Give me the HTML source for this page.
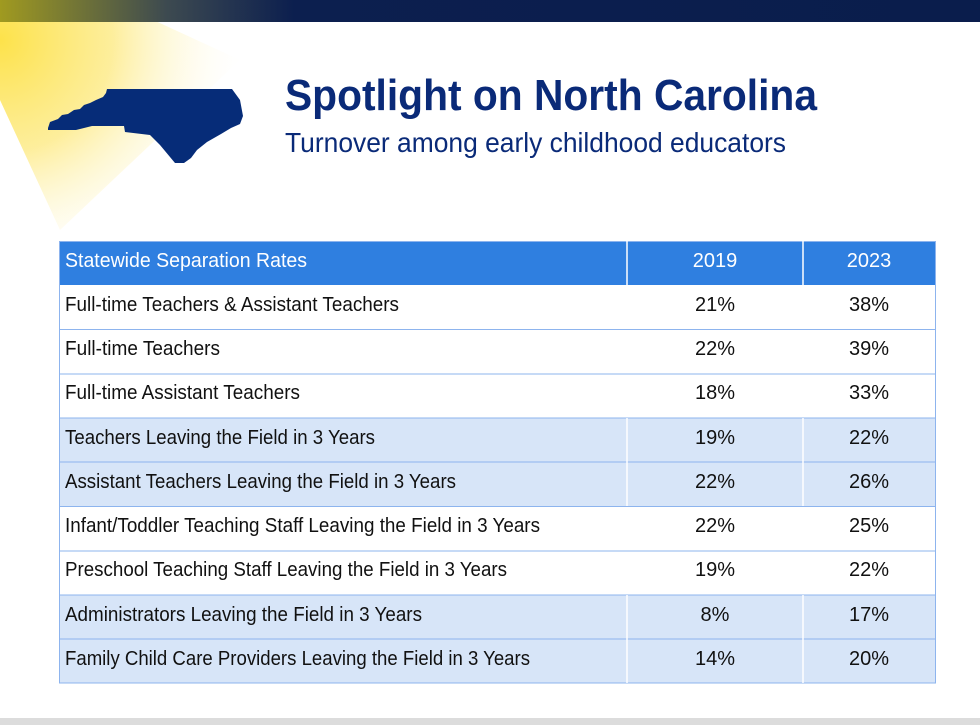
<!DOCTYPE html>
<html><head><style>body{margin:0;background:#fff}svg{display:block}</style></head><body>
<svg width="980" height="725" viewBox="0 0 980 725" xmlns="http://www.w3.org/2000/svg" font-family="Liberation Sans, sans-serif">
<defs>
<radialGradient id="spot" cx="0" cy="40" r="250" gradientUnits="userSpaceOnUse">
<stop offset="0" stop-color="#fde24a"/><stop offset="0.45" stop-color="#fdeb8a" stop-opacity="0.85"/><stop offset="1" stop-color="#fff" stop-opacity="0"/></radialGradient>
<linearGradient id="bar" x1="0" x2="1"><stop offset="0" stop-color="#a09a20"/><stop offset="0.17" stop-color="#3d4a50"/><stop offset="0.3" stop-color="#0c1f4f"/><stop offset="1" stop-color="#0a1d4c"/></linearGradient>
</defs>
<polygon points="0,0 110,0 240,60 60,230 0,100" fill="url(#spot)"/>
<rect x="0" y="0" width="980" height="22" fill="url(#bar)"/>
<polygon fill="#062c78" points="48,128 50,122 58,119 62,115 68,114 74,110 80,109 84,105 90,103 96,100 103,97 106,93 107,89 232,89 240,100 243,116 240,124 231,128 221,134 207,142 197,150 191,158 184,163 175,163 160,145 150,135 125,132 124,126 92,126 76,130 48,130"/>
<text x="285" y="110" font-size="44" font-weight="bold" fill="#0a2a78" textLength="532" lengthAdjust="spacingAndGlyphs">Spotlight on North Carolina</text>
<text x="285" y="152" font-size="28" fill="#0a2a78" textLength="501" lengthAdjust="spacingAndGlyphs">Turnover among early childhood educators</text>
<rect x="59" y="241" width="877" height="44" fill="#2f7fe0"/>
<rect x="59" y="418" width="877" height="88" fill="#d7e5f8"/>
<rect x="59" y="595" width="877" height="88" fill="#d7e5f8"/>
<g stroke="#8db4ee" stroke-width="1" fill="none">
<rect x="59.5" y="241.5" width="876" height="441.5"/>
<line x1="59" x2="936" y1="329.5" y2="329.5"/><line x1="59" x2="936" y1="374" y2="374"/>
<line x1="59" x2="936" y1="418" y2="418"/><line x1="59" x2="936" y1="462" y2="462"/>
<line x1="59" x2="936" y1="506.5" y2="506.5"/><line x1="59" x2="936" y1="551" y2="551"/>
<line x1="59" x2="936" y1="595" y2="595"/><line x1="59" x2="936" y1="639" y2="639"/>
</g>
<g stroke="#fff" stroke-width="1.5">
<line x1="627" x2="627" y1="241" y2="285"/><line x1="803" x2="803" y1="241" y2="285"/>
<line x1="627" x2="627" y1="418" y2="506"/><line x1="803" x2="803" y1="418" y2="506"/>
<line x1="627" x2="627" y1="595" y2="683"/><line x1="803" x2="803" y1="595" y2="683"/>
</g>
<text x="65" y="267" font-size="20" fill="#fff" textLength="242" lengthAdjust="spacingAndGlyphs">Statewide Separation Rates</text>
<text x="715" y="267" font-size="20" fill="#fff" text-anchor="middle">2019</text>
<text x="869" y="267" font-size="20" fill="#fff" text-anchor="middle">2023</text>
<g font-size="20" fill="#111">
<text x="65" y="311" textLength="334" lengthAdjust="spacingAndGlyphs">Full-time Teachers &amp; Assistant Teachers</text>
<text x="65" y="355" textLength="155" lengthAdjust="spacingAndGlyphs">Full-time Teachers</text>
<text x="65" y="399" textLength="235" lengthAdjust="spacingAndGlyphs">Full-time Assistant Teachers</text>
<text x="65" y="444" textLength="310" lengthAdjust="spacingAndGlyphs">Teachers Leaving the Field in 3 Years</text>
<text x="65" y="488" textLength="391" lengthAdjust="spacingAndGlyphs">Assistant Teachers Leaving the Field in 3 Years</text>
<text x="65" y="532" textLength="475" lengthAdjust="spacingAndGlyphs">Infant/Toddler Teaching Staff Leaving the Field in 3 Years</text>
<text x="65" y="576" textLength="442" lengthAdjust="spacingAndGlyphs">Preschool Teaching Staff Leaving the Field in 3 Years</text>
<text x="65" y="621" textLength="357" lengthAdjust="spacingAndGlyphs">Administrators Leaving the Field in 3 Years</text>
<text x="65" y="665" textLength="465" lengthAdjust="spacingAndGlyphs">Family Child Care Providers Leaving the Field in 3 Years</text>
</g>
<g font-size="20" fill="#111" text-anchor="middle">
<text x="715" y="311">21%</text><text x="869" y="311">38%</text>
<text x="715" y="355">22%</text><text x="869" y="355">39%</text>
<text x="715" y="399">18%</text><text x="869" y="399">33%</text>
<text x="715" y="444">19%</text><text x="869" y="444">22%</text>
<text x="715" y="488">22%</text><text x="869" y="488">26%</text>
<text x="715" y="532">22%</text><text x="869" y="532">25%</text>
<text x="715" y="576">19%</text><text x="869" y="576">22%</text>
<text x="715" y="621">8%</text><text x="869" y="621">17%</text>
<text x="715" y="665">14%</text><text x="869" y="665">20%</text>
</g>
<rect x="0" y="718" width="980" height="7" fill="#dcdcdc"/>
</svg>
</body></html>
